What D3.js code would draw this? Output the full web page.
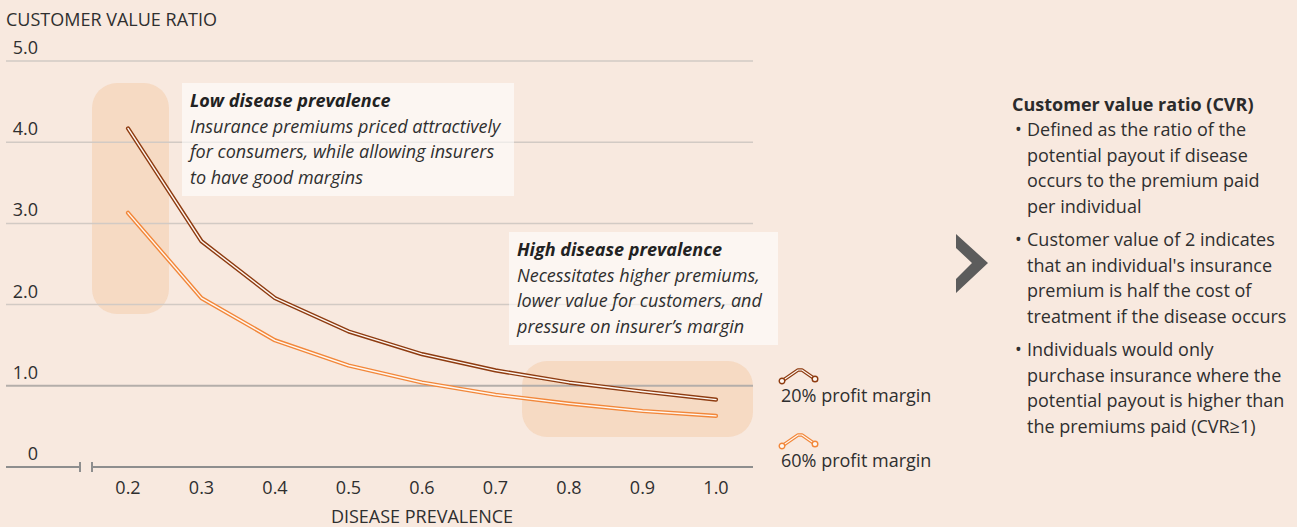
<!DOCTYPE html>
<html>
<head>
<meta charset="utf-8">
<script src="https://cdn.jsdelivr.net/npm/d3@7"></script>
<style>
  html, body { margin: 0; padding: 0; background: #F8E9DF; }
  svg { display: block; font-family: "Open Sans", "Noto Sans", sans-serif; }
</style>
</head>
<body>
<svg id="chart" width="1297" height="527"></svg>
<script>
// values
const prevalence = [0.2, 0.3, 0.4, 0.5, 0.6, 0.7, 0.8, 0.9, 1.0];
const cvr20 = [4.17, 2.78, 2.08, 1.67, 1.39, 1.19, 1.04, 0.93, 0.83];
const cvr60 = [3.13, 2.08, 1.56, 1.25, 1.04, 0.89, 0.78, 0.69, 0.63];
const yTicks = [0, 1, 2, 3, 4, 5];
const seriesNames = ["20% profit margin", "60% profit margin"];
const seriesColors = ["#8E3B10", "#F2873A"];

const lowNote = ["Low disease prevalence",
  "Insurance premiums priced attractively",
  "for consumers, while allowing insurers",
  "to have good margins"];
const highNote = ["High disease prevalence",
  "Necessitates higher premiums,",
  "lower value for customers, and",
  "pressure on insurer\u2019s margin"];
const cvrTitle = "Customer value ratio (CVR)";
const cvrBullets = [
  ["Defined as the ratio of the", "potential payout if disease", "occurs to the premium paid", "per individual"],
  ["Customer value of 2 indicates", "that an individual's insurance", "premium is half the cost of", "treatment if the disease occurs"],
  ["Individuals would only", "purchase insurance where the", "potential payout is higher than", "the premiums paid (CVR\u22651)"]
];

const svg = d3.select("#chart");
const textCol = "#2f2f2f";
const fs = 18;

const x = d3.scaleLinear().domain([0.2, 1.0]).range([128, 716]);
const y = d3.scaleLinear().domain([0, 5]).range([467, 61]);
const gridL = 6, gridR = 753;

// highlight zones (low / high prevalence)
const zones = svg.append("g");
zones.append("rect").attr("x", 92).attr("y", 83).attr("width", 77).attr("height", 231)
  .attr("rx", 25).attr("fill", "#F5D6BC").attr("opacity", 0.8);
zones.append("rect").attr("x", 522).attr("y", 361).attr("width", 231).attr("height", 76)
  .attr("rx", 25).attr("fill", "#F5D6BC").attr("opacity", 0.8);

// gridlines + y labels
const grid = svg.append("g");
yTicks.filter(d => d > 0).forEach(d => {
  grid.append("line")
    .attr("x1", gridL).attr("x2", gridR)
    .attr("y1", y(d)).attr("y2", y(d))
    .attr("stroke", d === 1 ? "#B4AEAA" : "#D2CAC4")
    .attr("stroke-width", d === 1 ? 2 : 1.5);
});
yTicks.forEach(d => {
  grid.append("text").attr("x", 38).attr("y", y(d) - 7)
    .attr("text-anchor", "end").attr("font-size", fs).attr("fill", textCol)
    .text(d === 0 ? "0" : d.toFixed(1));
});

// annotation boxes
function note(x0, y0, w, h, lines) {
  const g = svg.append("g");
  g.append("rect").attr("x", x0).attr("y", y0).attr("width", w).attr("height", h)
    .attr("fill", "#FFFFFF").attr("opacity", 0.6);
  lines.forEach((t, i) => {
    g.append("text").attr("x", x0 + 8).attr("y", y0 + 24 + i * 25.5)
      .attr("font-size", fs).attr("font-style", "italic")
      .attr("font-weight", i === 0 ? 700 : 400)
      .attr("fill", i === 0 ? "#222" : textCol)
      .text(t);
  });
}
note(182, 83, 332, 113, lowNote);
note(509, 232, 269, 113, highNote);

// x axis with break
const ax = svg.append("g").attr("stroke", "#8E8E8E").attr("stroke-width", 2);
ax.append("line").attr("x1", gridL).attr("x2", 80).attr("y1", y(0)).attr("y2", y(0));
ax.append("line").attr("x1", 92).attr("x2", gridR).attr("y1", y(0)).attr("y2", y(0));
ax.append("line").attr("x1", 80).attr("x2", 80).attr("y1", y(0) - 5).attr("y2", y(0) + 5);
ax.append("line").attr("x1", 92).attr("x2", 92).attr("y1", y(0) - 5).attr("y2", y(0) + 5);

svg.append("g").selectAll("text").data(prevalence).enter().append("text")
  .attr("x", d => x(d)).attr("y", 494).attr("text-anchor", "middle")
  .attr("font-size", fs).attr("fill", textCol).text(d => d.toFixed(1));

svg.append("text").attr("x", (x(0.2) + x(1.0)) / 2).attr("y", 523)
  .attr("text-anchor", "middle").attr("font-size", fs).attr("fill", textCol)
  .text("DISEASE PREVALENCE");
svg.append("text").attr("x", 6).attr("y", 26)
  .attr("font-size", fs).attr("fill", textCol).text("CUSTOMER VALUE RATIO");

// cased lines
const line = d3.line().x(d => x(d[0])).y(d => y(d[1]));
[cvr60, cvr20].forEach((vals, k) => {
  const col = k === 0 ? seriesColors[1] : seriesColors[0];
  const pts = prevalence.map((p, i) => [p, vals[i]]);
  svg.append("path").attr("d", line(pts)).attr("fill", "none")
    .attr("stroke", col).attr("stroke-width", 4.2)
    .attr("stroke-linejoin", "round").attr("stroke-linecap", "round");
  svg.append("path").attr("d", line(pts)).attr("fill", "none")
    .attr("stroke", "#FFF8F2").attr("stroke-width", 1.4)
    .attr("stroke-linejoin", "round").attr("stroke-linecap", "round");
});

// legend
const legendY = [381, 446];
seriesNames.forEach((name, i) => {
  const g = svg.append("g").attr("transform", `translate(781,${legendY[i]})`);
  const icon = "M1,0 L17,-11 L21,-11 L34,-2";
  g.append("path").attr("d", icon).attr("fill", "none").attr("stroke", seriesColors[i])
    .attr("stroke-width", 3.4).attr("stroke-linejoin", "round");
  g.append("path").attr("d", icon).attr("fill", "none").attr("stroke", "#FFF8F2")
    .attr("stroke-width", 1.1).attr("stroke-linejoin", "round");
  [[1, 0], [34, -2]].forEach(p => {
    g.append("circle").attr("cx", p[0]).attr("cy", p[1]).attr("r", 2.8)
      .attr("fill", "#FFF8F2").attr("stroke", seriesColors[i]).attr("stroke-width", 1.4);
  });
  g.append("text").attr("x", 0).attr("y", 21).attr("font-size", fs)
    .attr("fill", textCol).text(name);
});

// chevron
svg.append("path")
  .attr("d", "M956,234 L988,263 L956,293 L956,279 L972,263 L956,248 Z")
  .attr("fill", "#5C5C5C");

// CVR explanation
svg.append("text").attr("x", 1012).attr("y", 111).attr("font-size", fs)
  .attr("font-weight", 700).attr("fill", "#2b2b2b").text(cvrTitle);
let ly = 136;
cvrBullets.forEach(lines => {
  svg.append("text").attr("x", 1015).attr("y", ly).attr("font-size", fs)
    .attr("fill", textCol).text("\u2022");
  lines.forEach((t, i) => {
    svg.append("text").attr("x", 1027).attr("y", ly + i * 25.5)
      .attr("font-size", fs).attr("fill", textCol).text(t);
  });
  ly += lines.length * 25.5 + 8;
});
</script>
</body>
</html>
